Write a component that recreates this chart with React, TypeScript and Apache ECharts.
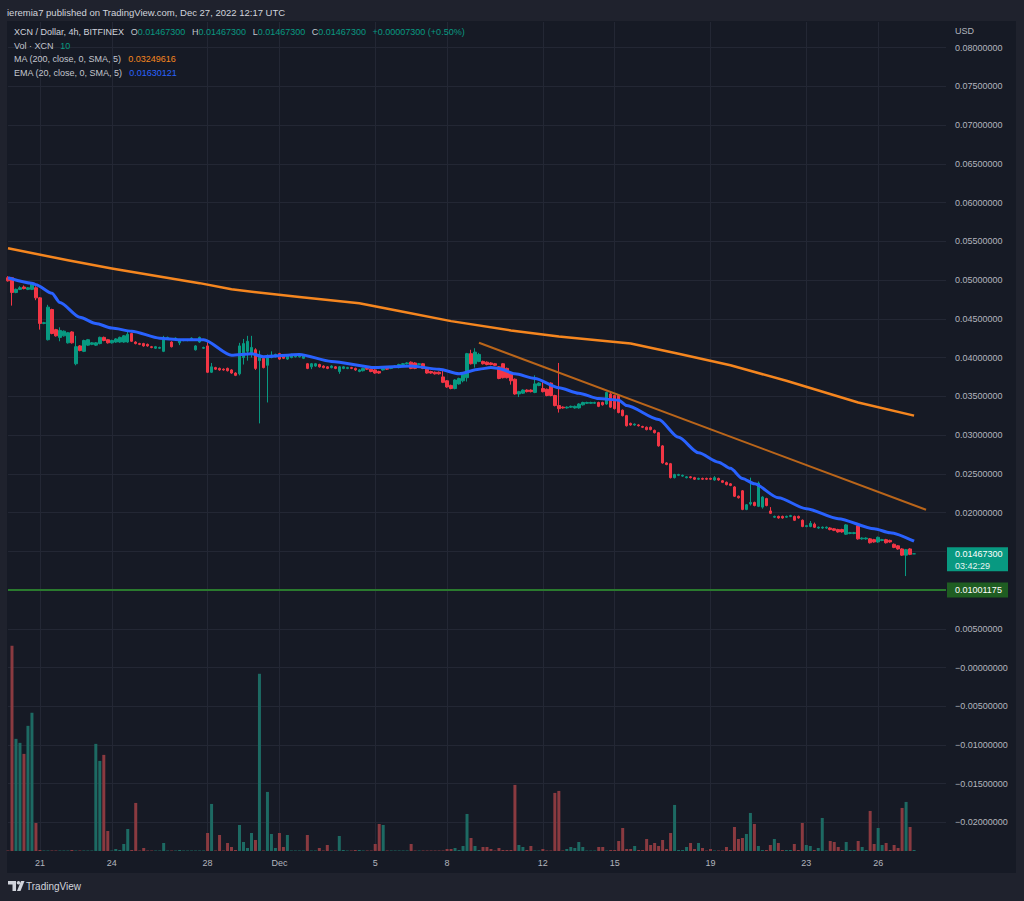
import React, { useEffect, useRef } from "react";
import * as echarts from "echarts";

const FONT = '"Liberation Sans", Arial, sans-serif';

// ---- time slots (4h bars) ----
const START_UTC = Date.UTC(2022, 10, 19, 16); // first visible 4h bar
const BAR_HOURS = 4;
const SLOT_COUNT = 236; // bars + empty right margin

// date ticks shown on the time axis
const dateTicks: [string, string][] = [
  ["2022-11-21", "21"], ["2022-11-24", "24"], ["2022-11-28", "28"], ["2022-12-01", "Dec"],
  ["2022-12-05", "5"], ["2022-12-08", "8"], ["2022-12-12", "12"], ["2022-12-15", "15"],
  ["2022-12-19", "19"], ["2022-12-23", "23"], ["2022-12-26", "26"],
];

// price axis grid ticks and the labels that are visible (0.015 / 0.01 are hidden behind the price tags)
const priceTicks = [0.08, 0.075, 0.07, 0.065, 0.06, 0.055, 0.05, 0.045, 0.04, 0.035, 0.03, 0.025, 0.02, 0.015, 0.01, 0.005, 0, -0.005, -0.01, -0.015, -0.02];
const priceLabelValues = [0.08, 0.075, 0.07, 0.065, 0.06, 0.055, 0.05, 0.045, 0.04, 0.035, 0.03, 0.025, 0.02, 0.005, 0, -0.005, -0.01, -0.015, -0.02];
const priceTickLabels = ["0.08000000", "0.07500000", "0.07000000", "0.06500000", "0.06000000", "0.05500000", "0.05000000", "0.04500000", "0.04000000", "0.03500000", "0.03000000", "0.02500000", "0.02000000", "0.00500000", "\u22120.00000000", "\u22120.00500000", "\u22120.01000000", "\u22120.01500000", "\u22120.02000000"];
const priceMin = -0.02368;
const priceMax = 0.0833;

// candles: [open, close, low, high]
const candles: number[][] = [
  [0.0503, 0.0499, 0.0498, 0.0505], [0.0503, 0.0484, 0.0467, 0.0504], [0.0484, 0.0488, 0.0483, 0.0489], [0.0488, 0.0490, 0.0487, 0.0492],
  [0.0491, 0.0489, 0.0488, 0.0493], [0.0488, 0.0490, 0.0487, 0.0491], [0.0488, 0.0496, 0.0487, 0.0497], [0.0490, 0.0477, 0.0474, 0.0492],
  [0.0477, 0.0444, 0.0436, 0.0478], [0.0444, 0.0445, 0.0443, 0.0446], [0.0423, 0.0465, 0.0422, 0.0468], [0.0462, 0.0431, 0.0430, 0.0463],
  [0.0436, 0.0428, 0.0427, 0.0437], [0.0426, 0.0435, 0.0421, 0.0439], [0.0428, 0.0434, 0.0427, 0.0435], [0.0419, 0.0432, 0.0418, 0.0433],
  [0.0433, 0.0419, 0.0418, 0.0434], [0.0392, 0.0414, 0.0390, 0.0428], [0.0415, 0.0409, 0.0408, 0.0416], [0.0408, 0.0422, 0.0407, 0.0423],
  [0.0416, 0.0423, 0.0415, 0.0424], [0.0417, 0.0419, 0.0416, 0.0420], [0.0416, 0.0419, 0.0415, 0.0420], [0.0418, 0.0426, 0.0417, 0.0427],
  [0.0426, 0.0422, 0.0421, 0.0427], [0.0423, 0.0419, 0.0418, 0.0424], [0.0419, 0.0422, 0.0418, 0.0423], [0.0420, 0.0424, 0.0419, 0.0425],
  [0.0420, 0.0426, 0.0419, 0.0427], [0.0420, 0.0428, 0.0419, 0.0429], [0.0420, 0.0430, 0.0419, 0.0434], [0.0431, 0.0421, 0.0420, 0.0432],
  [0.0420, 0.0418, 0.0417, 0.0421], [0.0418, 0.0417, 0.0416, 0.0419], [0.0418, 0.0415, 0.0414, 0.0419], [0.0417, 0.0415, 0.0414, 0.0418],
  [0.0414, 0.0413, 0.0412, 0.0415], [0.0412, 0.0414, 0.0411, 0.0415], [0.0412, 0.0413, 0.0411, 0.0414], [0.0408, 0.0426, 0.0407, 0.0428],
  [0.0424, 0.0426, 0.0423, 0.0427], [0.0420, 0.0414, 0.0413, 0.0421], [0.0424, 0.0425, 0.0423, 0.0426], [0.0419, 0.0423, 0.0416, 0.0424],
  [0.0422, 0.0423, 0.0421, 0.0424], [0.0422, 0.0423, 0.0421, 0.0424], [0.0424, 0.0425, 0.0423, 0.0426], [0.0410, 0.0415, 0.0409, 0.0416],
  [0.0420, 0.0426, 0.0419, 0.0427], [0.0412, 0.0413, 0.0411, 0.0414], [0.0415, 0.0381, 0.0380, 0.0420], [0.0381, 0.0388, 0.0380, 0.0393],
  [0.0387, 0.0385, 0.0384, 0.0388], [0.0386, 0.0384, 0.0383, 0.0387], [0.0385, 0.0384, 0.0383, 0.0386], [0.0386, 0.0383, 0.0382, 0.0387],
  [0.0384, 0.0380, 0.0379, 0.0385], [0.0380, 0.0377, 0.0376, 0.0381], [0.0379, 0.0415, 0.0377, 0.0419], [0.0400, 0.0418, 0.0391, 0.0424],
  [0.0408, 0.0421, 0.0396, 0.0428], [0.0404, 0.0413, 0.0400, 0.0428], [0.0410, 0.0386, 0.0384, 0.0412], [0.0396, 0.0403, 0.0315, 0.0409],
  [0.0399, 0.0387, 0.0386, 0.0400], [0.0390, 0.0401, 0.0342, 0.0404], [0.0400, 0.0403, 0.0399, 0.0408], [0.0401, 0.0404, 0.0400, 0.0405],
  [0.0405, 0.0398, 0.0397, 0.0406], [0.0402, 0.0399, 0.0398, 0.0403], [0.0398, 0.0402, 0.0397, 0.0403], [0.0400, 0.0404, 0.0399, 0.0405],
  [0.0401, 0.0402, 0.0400, 0.0403], [0.0401, 0.0402, 0.0400, 0.0403], [0.0399, 0.0402, 0.0398, 0.0403], [0.0392, 0.0386, 0.0385, 0.0393],
  [0.0388, 0.0392, 0.0385, 0.0393], [0.0389, 0.0392, 0.0388, 0.0393], [0.0391, 0.0388, 0.0387, 0.0392], [0.0389, 0.0387, 0.0386, 0.0390],
  [0.0388, 0.0386, 0.0385, 0.0389], [0.0387, 0.0389, 0.0386, 0.0390], [0.0388, 0.0386, 0.0385, 0.0389], [0.0382, 0.0388, 0.0379, 0.0389],
  [0.0386, 0.0388, 0.0385, 0.0389], [0.0386, 0.0387, 0.0385, 0.0388], [0.0387, 0.0386, 0.0385, 0.0388], [0.0386, 0.0384, 0.0383, 0.0387],
  [0.0382, 0.0384, 0.0381, 0.0385], [0.0383, 0.0386, 0.0382, 0.0387], [0.0386, 0.0385, 0.0384, 0.0387], [0.0385, 0.0382, 0.0381, 0.0386],
  [0.0384, 0.0380, 0.0379, 0.0385], [0.0382, 0.0380, 0.0379, 0.0383], [0.0384, 0.0386, 0.0383, 0.0387], [0.0386, 0.0385, 0.0384, 0.0387],
  [0.0386, 0.0388, 0.0385, 0.0389], [0.0388, 0.0389, 0.0387, 0.0390], [0.0387, 0.0391, 0.0386, 0.0392], [0.0391, 0.0392, 0.0390, 0.0393],
  [0.0392, 0.0393, 0.0391, 0.0394], [0.0394, 0.0386, 0.0385, 0.0395], [0.0393, 0.0386, 0.0385, 0.0394], [0.0391, 0.0392, 0.0390, 0.0393],
  [0.0392, 0.0386, 0.0385, 0.0393], [0.0385, 0.0380, 0.0379, 0.0386], [0.0382, 0.0380, 0.0379, 0.0383], [0.0381, 0.0379, 0.0378, 0.0382],
  [0.0381, 0.0379, 0.0378, 0.0382], [0.0375, 0.0368, 0.0367, 0.0385], [0.0370, 0.0362, 0.0361, 0.0371], [0.0364, 0.0360, 0.0359, 0.0365],
  [0.0360, 0.0371, 0.0359, 0.0372], [0.0366, 0.0373, 0.0365, 0.0374], [0.0370, 0.0379, 0.0368, 0.0380], [0.0374, 0.0405, 0.0369, 0.0406],
  [0.0405, 0.0392, 0.0391, 0.0410], [0.0392, 0.0407, 0.0387, 0.0412], [0.0395, 0.0404, 0.0394, 0.0406], [0.0395, 0.0392, 0.0391, 0.0396],
  [0.0394, 0.0391, 0.0390, 0.0395], [0.0393, 0.0391, 0.0390, 0.0394], [0.0392, 0.0390, 0.0389, 0.0393], [0.0388, 0.0373, 0.0372, 0.0389],
  [0.0392, 0.0374, 0.0373, 0.0393], [0.0386, 0.0374, 0.0373, 0.0387], [0.0379, 0.0370, 0.0365, 0.0380], [0.0372, 0.0353, 0.0352, 0.0373],
  [0.0353, 0.0356, 0.0349, 0.0357], [0.0354, 0.0358, 0.0353, 0.0359], [0.0358, 0.0356, 0.0355, 0.0359], [0.0358, 0.0356, 0.0355, 0.0359],
  [0.0355, 0.0366, 0.0354, 0.0377], [0.0364, 0.0367, 0.0363, 0.0368], [0.0360, 0.0356, 0.0355, 0.0371], [0.0359, 0.0351, 0.0350, 0.0360],
  [0.0367, 0.0351, 0.0350, 0.0368], [0.0351, 0.0338, 0.0337, 0.0352], [0.0338, 0.0334, 0.0329, 0.0393], [0.0336, 0.0335, 0.0334, 0.0337],
  [0.0335, 0.0336, 0.0334, 0.0337], [0.0336, 0.0337, 0.0335, 0.0338], [0.0335, 0.0337, 0.0334, 0.0338], [0.0335, 0.0340, 0.0334, 0.0341],
  [0.0339, 0.0342, 0.0338, 0.0343], [0.0341, 0.0342, 0.0340, 0.0343], [0.0341, 0.0342, 0.0340, 0.0343], [0.0341, 0.0342, 0.0340, 0.0343],
  [0.0342, 0.0337, 0.0336, 0.0343], [0.0342, 0.0339, 0.0338, 0.0343], [0.0340, 0.0355, 0.0339, 0.0356], [0.0353, 0.0336, 0.0335, 0.0356],
  [0.0351, 0.0334, 0.0333, 0.0352], [0.0351, 0.0329, 0.0328, 0.0352], [0.0332, 0.0325, 0.0324, 0.0333], [0.0325, 0.0312, 0.0311, 0.0326],
  [0.0315, 0.0313, 0.0312, 0.0316], [0.0313, 0.0314, 0.0312, 0.0315], [0.0313, 0.0312, 0.0311, 0.0314], [0.0311, 0.0310, 0.0309, 0.0312],
  [0.0310, 0.0307, 0.0306, 0.0311], [0.0310, 0.0307, 0.0306, 0.0311], [0.0306, 0.0303, 0.0302, 0.0307], [0.0303, 0.0286, 0.0285, 0.0304],
  [0.0286, 0.0264, 0.0263, 0.0287], [0.0264, 0.0262, 0.0261, 0.0265], [0.0263, 0.0245, 0.0244, 0.0264], [0.0245, 0.0249, 0.0244, 0.0250],
  [0.0248, 0.0249, 0.0247, 0.0250], [0.0247, 0.0248, 0.0246, 0.0249], [0.0245, 0.0246, 0.0244, 0.0247], [0.0246, 0.0245, 0.0244, 0.0247],
  [0.0245, 0.0243, 0.0242, 0.0246], [0.0243, 0.0244, 0.0242, 0.0245], [0.0244, 0.0243, 0.0242, 0.0245], [0.0244, 0.0243, 0.0242, 0.0245],
  [0.0244, 0.0243, 0.0242, 0.0245], [0.0242, 0.0245, 0.0241, 0.0247], [0.0244, 0.0242, 0.0241, 0.0245], [0.0241, 0.0239, 0.0238, 0.0242],
  [0.0239, 0.0236, 0.0235, 0.0240], [0.0237, 0.0235, 0.0234, 0.0238], [0.0233, 0.0221, 0.0220, 0.0234], [0.0221, 0.0219, 0.0218, 0.0222],
  [0.0228, 0.0204, 0.0203, 0.0229], [0.0204, 0.0210, 0.0203, 0.0211], [0.0211, 0.0213, 0.0209, 0.0245], [0.0213, 0.0209, 0.0208, 0.0214],
  [0.0208, 0.0238, 0.0207, 0.0240], [0.0207, 0.0220, 0.0205, 0.0221], [0.0218, 0.0209, 0.0208, 0.0219], [0.0202, 0.0199, 0.0198, 0.0207],
  [0.0194, 0.0195, 0.0193, 0.0196], [0.0195, 0.0193, 0.0192, 0.0196], [0.0195, 0.0193, 0.0192, 0.0196], [0.0194, 0.0195, 0.0193, 0.0196],
  [0.0195, 0.0196, 0.0194, 0.0197], [0.0195, 0.0190, 0.0189, 0.0196], [0.0195, 0.0193, 0.0192, 0.0196], [0.0190, 0.0182, 0.0181, 0.0191],
  [0.0182, 0.0183, 0.0181, 0.0184], [0.0182, 0.0186, 0.0181, 0.0189], [0.0185, 0.0181, 0.0180, 0.0187], [0.0180, 0.0181, 0.0179, 0.0182],
  [0.0180, 0.0181, 0.0179, 0.0182], [0.0180, 0.0181, 0.0179, 0.0182], [0.0180, 0.0178, 0.0177, 0.0181], [0.0179, 0.0177, 0.0176, 0.0180],
  [0.0178, 0.0175, 0.0174, 0.0179], [0.0178, 0.0175, 0.0174, 0.0179], [0.0172, 0.0184, 0.0171, 0.0185], [0.0173, 0.0174, 0.0172, 0.0175],
  [0.0173, 0.0174, 0.0172, 0.0175], [0.0183, 0.0166, 0.0165, 0.0185], [0.0166, 0.0167, 0.0165, 0.0168], [0.0166, 0.0167, 0.0165, 0.0168],
  [0.0166, 0.0161, 0.0160, 0.0167], [0.0165, 0.0162, 0.0161, 0.0166], [0.0162, 0.0168, 0.0161, 0.0169], [0.0164, 0.0165, 0.0163, 0.0166],
  [0.0165, 0.0161, 0.0160, 0.0166], [0.0164, 0.0162, 0.0161, 0.0165], [0.0159, 0.0155, 0.0154, 0.0160], [0.0157, 0.0153, 0.0152, 0.0158],
  [0.0153, 0.0145, 0.0144, 0.0154], [0.0145, 0.0152, 0.0118, 0.0153], [0.0153, 0.0146, 0.0145, 0.0154], [0.014673, 0.014673, 0.014673, 0.014673],
];

// volume (thousand XCN) per bar
const volumesK = [
  0.5, 205, 112, 108, 97, 125, 138, 28, 1, 0.5, 0.5, 0.5,
  0.5, 0.5, 0.5, 0.5, 1, 0.5, 0.5, 0.5, 0.5, 0.5, 107, 90,
  96, 20, 0.5, 2, 1, 7, 22, 1, 48, 0.5, 3, 0.5,
  0.5, 0.5, 0.5, 8, 0.5, 0.5, 0.5, 1, 0.5, 0.5, 0.5, 0.5,
  0.5, 0.5, 18, 47, 0.5, 16, 0.5, 8, 4, 1, 26, 9,
  3, 18, 11, 177, 0.5, 59, 17, 3, 18, 4, 16, 0.5,
  0.5, 0.5, 0.5, 16, 0.5, 0.5, 3, 0.5, 6, 0.5, 0.5, 15,
  1, 0.5, 0.5, 1, 1, 0.5, 0.5, 0.5, 7, 27, 26, 0.5,
  0.5, 0.5, 0.5, 0.5, 0.5, 7, 0.5, 0.5, 0.5, 0.5, 0.5, 0.5,
  0.5, 0.5, 2, 2, 3, 1, 5, 37, 13, 5, 1, 4,
  4, 2, 0.5, 3, 1, 1, 1, 66, 6, 4, 1, 5,
  0.5, 0.5, 2, 0.5, 0.5, 58, 60, 0.5, 2, 4, 3, 9,
  4, 0.5, 0.5, 0.5, 4, 4, 0.5, 1, 1, 10, 23, 2,
  2, 5, 1, 1, 12, 6, 8, 5, 11, 2, 18, 46,
  1, 1, 4, 8, 2, 8, 3, 0.5, 2, 0.5, 0.5, 0.5,
  4, 1, 24, 12, 13, 17, 38, 27, 5, 1, 1, 6,
  12, 8, 1, 1, 1, 7, 1, 28, 6, 5, 1, 3,
  33, 0.5, 10, 9, 4, 1, 9, 1, 1, 10, 4, 1,
  40, 7, 23, 6, 8, 1, 6, 3, 43, 49, 24, 1,
];
const volumeAxisMax = 828;

// indicator readings [bar index, value]
const ma200Points = [
  [0, 0.0541], [15, 0.05255], [26, 0.0515], [48, 0.0496], [56, 0.0488], [73, 0.0478], [88, 0.0470],
  [98, 0.0460], [111, 0.0447], [126, 0.0435], [138, 0.0427], [156, 0.0418], [168, 0.0405],
  [181, 0.0390], [195, 0.0370], [213, 0.0342], [227, 0.0325],
];
const ema20Points = [
  [0, 0.0503], [6, 0.0496], [7, 0.0494], [11, 0.0483], [13, 0.0471], [18, 0.0452], [22, 0.0444],
  [26, 0.0438], [31, 0.0434], [38, 0.0425], [43, 0.0423], [49, 0.0423], [56, 0.0403], [61, 0.0405],
  [64, 0.0401], [73, 0.0404], [81, 0.0395], [92, 0.0387], [101, 0.0389], [108, 0.0385], [113, 0.0379],
  [118, 0.0385], [121, 0.0387], [123, 0.0386], [127, 0.0379], [132, 0.0373], [138, 0.0361], [143, 0.0354],
  [148, 0.0347], [153, 0.0345], [155, 0.0338], [163, 0.0320], [168, 0.0297], [173, 0.0277], [178, 0.0265],
  [181, 0.0257], [184, 0.0244], [187, 0.0237], [193, 0.0219], [200, 0.0205], [208, 0.0192], [217, 0.0179],
  [221, 0.0174], [227, 0.0163],
];
const trendLine = [[118, 0.04191], [230, 0.02035]];
const supportLevel = 0.01001175;
const lastPrice = 0.014673;
const countdown = "03:42:29";

// ---- colours ----
const UP = "#089981";
const DOWN = "#f23645";
const VOL_UP = "#1d6a63";
const VOL_DOWN = "#8a3a40";
const PANEL = "#161a25";
const OUTER = "#1f222d";
const GRID_LINE = "#232734";
const AXIS_TEXT = "#b2b5be";
const MA_COLOR = "#f5861f";
const EMA_COLOR = "#2962ff";

const pad2 = (n: number) => (n < 10 ? "0" + n : "" + n);
const categories: string[] = [];
for (let k = 0; k < SLOT_COUNT; k++) {
  const d = new Date(START_UTC + k * BAR_HOURS * 3600 * 1000);
  categories.push(`${d.getUTCFullYear()}-${pad2(d.getUTCMonth() + 1)}-${pad2(d.getUTCDate())} ${pad2(d.getUTCHours())}:00`);
}
const dateLabelMap: Record<string, string> = {};
dateTicks.forEach(([day, label]) => { dateLabelMap[`${day} 00:00`] = label; });
const isDateTick = (_i: number, v: string) => dateLabelMap[v] !== undefined;

const priceLabel = (v: number) => {
  for (let k = 0; k < priceLabelValues.length; k++) if (Math.abs(priceLabelValues[k] - v) < 1e-9) return priceTickLabels[k];
  return "";
};

export default function App() {
  const ref = useRef<HTMLDivElement>(null);
  useEffect(() => {
    if (!ref.current) return;
    const chart = echarts.init(ref.current, null, { renderer: "svg" });
    const gridL = 8, gridR = 78, gridT = 22, gridB = 50;
    const option: any = {
      animation: false,
      backgroundColor: OUTER,
      textStyle: { fontFamily: FONT },
      grid: [
        { left: gridL, right: gridR, top: gridT, bottom: gridB },
        { left: gridL, right: gridR, top: gridT, bottom: gridB },
      ],
      xAxis: [
        {
          type: "category", gridIndex: 0, data: categories, boundaryGap: false,
          axisLine: { show: false }, axisTick: { show: false },
          axisLabel: {
            interval: isDateTick, formatter: (v: string) => dateLabelMap[v] || "",
            color: AXIS_TEXT, fontSize: 9, fontFamily: FONT, margin: 7,
          },
          splitLine: { show: true, interval: isDateTick, lineStyle: { color: GRID_LINE, width: 1 } },
        },
        { type: "category", gridIndex: 1, data: categories, boundaryGap: false, show: false },
      ],
      yAxis: [
        {
          type: "value", gridIndex: 0, position: "right", min: priceMin, max: priceMax,
          axisLine: { show: false },
          axisTick: { show: false, customValues: priceTicks },
          axisLabel: {
            customValues: priceLabelValues, formatter: priceLabel, color: AXIS_TEXT,
            fontSize: 9, fontFamily: FONT, margin: 9, align: "left",
          },
          splitLine: { show: true, lineStyle: { color: GRID_LINE, width: 1 } },
        },
        { type: "value", gridIndex: 1, min: 0, max: volumeAxisMax, show: false, splitLine: { show: false } },
      ],
      series: [
        {
          type: "bar", name: "Volume", xAxisIndex: 1, yAxisIndex: 1, barWidth: 3, z: 1,
          data: volumesK.map((v, k) => ({
            value: v,
            itemStyle: { color: candles[k][1] >= candles[k][0] ? VOL_UP : VOL_DOWN },
          })),
        },
        {
          type: "candlestick", name: "XCN", xAxisIndex: 0, yAxisIndex: 0, barWidth: 3, z: 2,
          data: candles,
          itemStyle: { color: UP, color0: DOWN, borderColor: UP, borderColor0: DOWN, borderColorDoji: UP, borderWidth: 1 },
        },
        {
          type: "line", name: "MA 200", xAxisIndex: 0, yAxisIndex: 0, data: ma200Points, z: 3,
          showSymbol: false, smooth: false, lineStyle: { color: MA_COLOR, width: 2.5, join: "round" },
        },
        {
          type: "line", name: "EMA 20", xAxisIndex: 0, yAxisIndex: 0, data: ema20Points, z: 4,
          showSymbol: false, smooth: 0.25, smoothMonotone: "x", lineStyle: { color: EMA_COLOR, width: 3 },
        },
        {
          type: "line", name: "Trend", xAxisIndex: 0, yAxisIndex: 0, data: trendLine, z: 3,
          showSymbol: false, lineStyle: { color: "#b9651a", width: 2 },
        },
        {
          type: "line", name: "levels", xAxisIndex: 0, yAxisIndex: 0, data: [], z: 5,
          markLine: {
            symbol: ["none", "none"], silent: true, animation: false, label: { show: false },
            data: [
              { yAxis: lastPrice, lineStyle: { type: [1, 2], color: "#3c7d75", width: 1 } },
              { yAxis: supportLevel, lineStyle: { type: "solid", color: "#2a7a2e", width: 2 } },
            ],
          },
        },
      ],
    };
    chart.setOption(option);

    const yLast = chart.convertToPixel({ yAxisIndex: 0 }, lastPrice) as number;
    const ySup = chart.convertToPixel({ yAxisIndex: 0 }, supportLevel) as number;
    const axisX = 1024 - gridR;

    const txt = (x: number, y: number, text: string, fill: string, size = 9, extra: any = {}) => ({
      type: "text", x, y, z: 20, silent: true,
      style: { text, fill, fontSize: size, fontFamily: FONT, verticalAlign: "middle", ...extra },
    });
    const richBase = { fontSize: 9, fontFamily: FONT };
    const rich = {
      t: { ...richBase, fill: "#d1d4dc" },
      k: { ...richBase, fill: "#c3c6ce" },
      v: { ...richBase, fill: UP },
      o: { ...richBase, fill: MA_COLOR },
      b: { ...richBase, fill: EMA_COLOR },
    };
    const graphics: any[] = [
      { type: "rect", z: -10, silent: true, shape: { x: 7, y: 21, width: 1009, height: 852 }, style: { fill: PANEL } },
      txt(7, 12, "ieremia7 published on TradingView.com, Dec 27, 2022 12:17 UTC", "#d1d4dc", 9.5),
      {
        type: "text", x: 14, y: 32, z: 20, silent: true,
        style: {
          text: "{t|XCN / Dollar, 4h, BITFINEX}  {k|O}{v|0.01467300}  {k|H}{v|0.01467300}  {k|L}{v|0.01467300}  {k|C}{v|0.01467300}  {v|+0.00007300 (+0.50%)}",
          rich, verticalAlign: "middle",
        },
      },
      { type: "text", x: 14, y: 45.5, z: 20, silent: true, style: { text: "{k|Vol \u00b7 XCN}  {v|10}", rich, verticalAlign: "middle" } },
      { type: "text", x: 14, y: 59, z: 20, silent: true, style: { text: "{k|MA (200, close, 0, SMA, 5)}  {o|0.03249616}", rich, verticalAlign: "middle" } },
      { type: "text", x: 14, y: 72.5, z: 20, silent: true, style: { text: "{k|EMA (20, close, 0, SMA, 5)}  {b|0.01630121}", rich, verticalAlign: "middle" } },
      txt(axisX + 9, 31, "USD", AXIS_TEXT, 9),
      // last price tag
      { type: "rect", z: 20, silent: true, shape: { x: axisX + 1, y: yLast - 6.5, width: 61, height: 24 }, style: { fill: UP } },
      txt(axisX + 9, yLast, "0.01467300", "#ffffff", 9),
      txt(axisX + 9, yLast + 12, countdown, "#e6f4f1", 9),
      // horizontal level tag
      { type: "rect", z: 20, silent: true, shape: { x: axisX + 1, y: ySup - 7.5, width: 61, height: 15 }, style: { fill: "#1f5d22" } },
      txt(axisX + 9, ySup, "0.01001175", "#ffffff", 9),
      // footer logo
      { type: "rect", z: 20, silent: true, shape: { x: 8, y: 881, width: 8, height: 3.5 }, style: { fill: "#d1d4dc" } },
      { type: "rect", z: 20, silent: true, shape: { x: 12.5, y: 881, width: 3.5, height: 10 }, style: { fill: "#d1d4dc" } },
      { type: "circle", z: 20, silent: true, shape: { cx: 18.5, cy: 882.8, r: 1.8 }, style: { fill: "#d1d4dc" } },
      { type: "polygon", z: 20, silent: true, shape: { points: [[21, 881], [24.5, 881], [20.5, 891], [17, 891]] }, style: { fill: "#d1d4dc" } },
      txt(26, 886, "TradingView", "#d1d4dc", 10),
    ];
    chart.setOption({ graphic: graphics });

    return () => chart.dispose();
  }, []);
  return <div ref={ref} style={{ position: "fixed", left: 0, top: 0, width: 1024, height: 901 }} />;
}
